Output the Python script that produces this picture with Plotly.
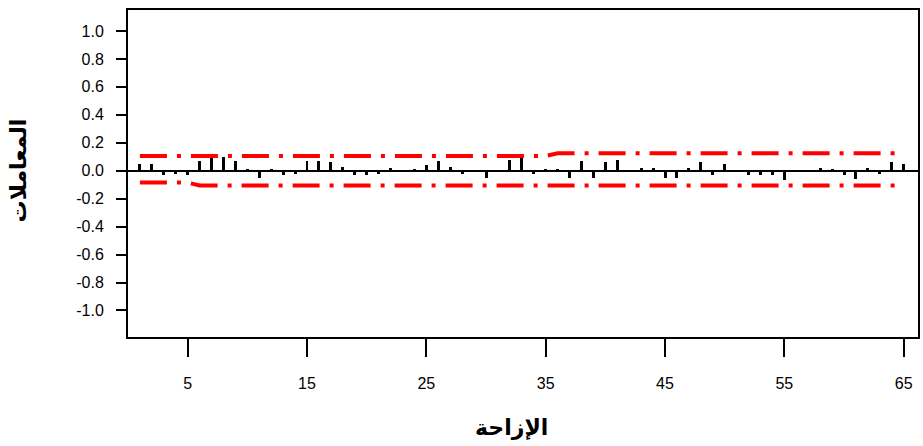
import plotly.graph_objects as go

lags = list(range(1, 66))
acf = [0.05, 0.05, -0.03, -0.02, -0.03, 0.07, 0.09, 0.10, 0.07, 0.01,
       -0.05, 0.01, -0.03, -0.02, 0.07, 0.07, 0.06, 0.03, -0.03, -0.03,
       -0.02, 0.02, 0.005, 0.01, 0.04, 0.07, 0.03, -0.02, 0.005, -0.05,
       0.005, 0.08, 0.10, -0.02, 0.01, 0.01, -0.05, 0.07, -0.05, 0.06,
       0.08, 0.005, 0.02, 0.02, -0.05, -0.05, 0.02, 0.06, -0.03, 0.05,
       0.005, -0.03, -0.03, -0.03, -0.07, 0.005, 0.005, 0.02, 0.01, -0.03,
       -0.06, 0.02, -0.02, 0.06, 0.05]
upper = [0.105] * 35 + [0.125] * 30
lower = [-0.085] * 5 + [-0.105] * 60
xticks = [5, 15, 25, 35, 45, 55, 65]
yticks = [-1.0, -0.8, -0.6, -0.4, -0.2, 0.0, 0.2, 0.4, 0.6, 0.8, 1.0]

dash = "27px,10px,4px,10px"
fig = go.Figure()
fig.add_trace(go.Bar(x=lags, y=acf, width=0.25, marker=dict(color="black", line=dict(width=0)),
                     showlegend=False))
fig.add_trace(go.Scatter(x=lags, y=upper, mode="lines",
                         line=dict(color="#FF0000", width=4, dash=dash), showlegend=False))
fig.add_trace(go.Scatter(x=lags, y=lower, mode="lines",
                         line=dict(color="#FF0000", width=4, dash=dash), showlegend=False))

fig.update_layout(
    width=923, height=446,
    margin=dict(l=128, r=3, t=10, b=109),
    plot_bgcolor="white", paper_bgcolor="white",
    font=dict(family="Liberation Sans, Arial", size=16, color="black"),
    bargap=0,
    xaxis=dict(range=[0, 66.2], tickmode="array", tickvals=xticks,
               ticks="outside", ticklen=18, tickwidth=2, tickcolor="black",
               ticklabelstandoff=13,
               showgrid=False, zeroline=False, showline=True, linecolor="black",
               linewidth=2, mirror=True, tickfont=dict(size=16)),
    yaxis=dict(range=[-1.19, 1.15], tickmode="array", tickvals=yticks,
               ticktext=[f"{v:.1f}" for v in yticks],
               ticks="outside", ticklen=10, tickwidth=2, tickcolor="black",
               ticklabelstandoff=9,
               showgrid=False, zeroline=True, zerolinecolor="black", zerolinewidth=2,
               showline=True, linecolor="black", linewidth=2, mirror=True,
               tickfont=dict(size=16)),
    annotations=[
        dict(text="<b>الإزاحة</b>", xref="paper", yref="paper", x=0.485, y=-0.278,
             xanchor="center", yanchor="middle", showarrow=False,
             font=dict(family="DejaVu Sans", size=22)),
        dict(text="<b>المعاملات</b>", xref="paper", yref="paper", x=-0.139, y=0.51,
             xanchor="center", yanchor="middle", showarrow=False, textangle=-90,
             font=dict(family="DejaVu Sans", size=22)),
    ],
)

fig.write_html("out.html", config={"displayModeBar": False},
               post_script="document.body.style.margin='0';document.body.style.overflow='hidden';")
